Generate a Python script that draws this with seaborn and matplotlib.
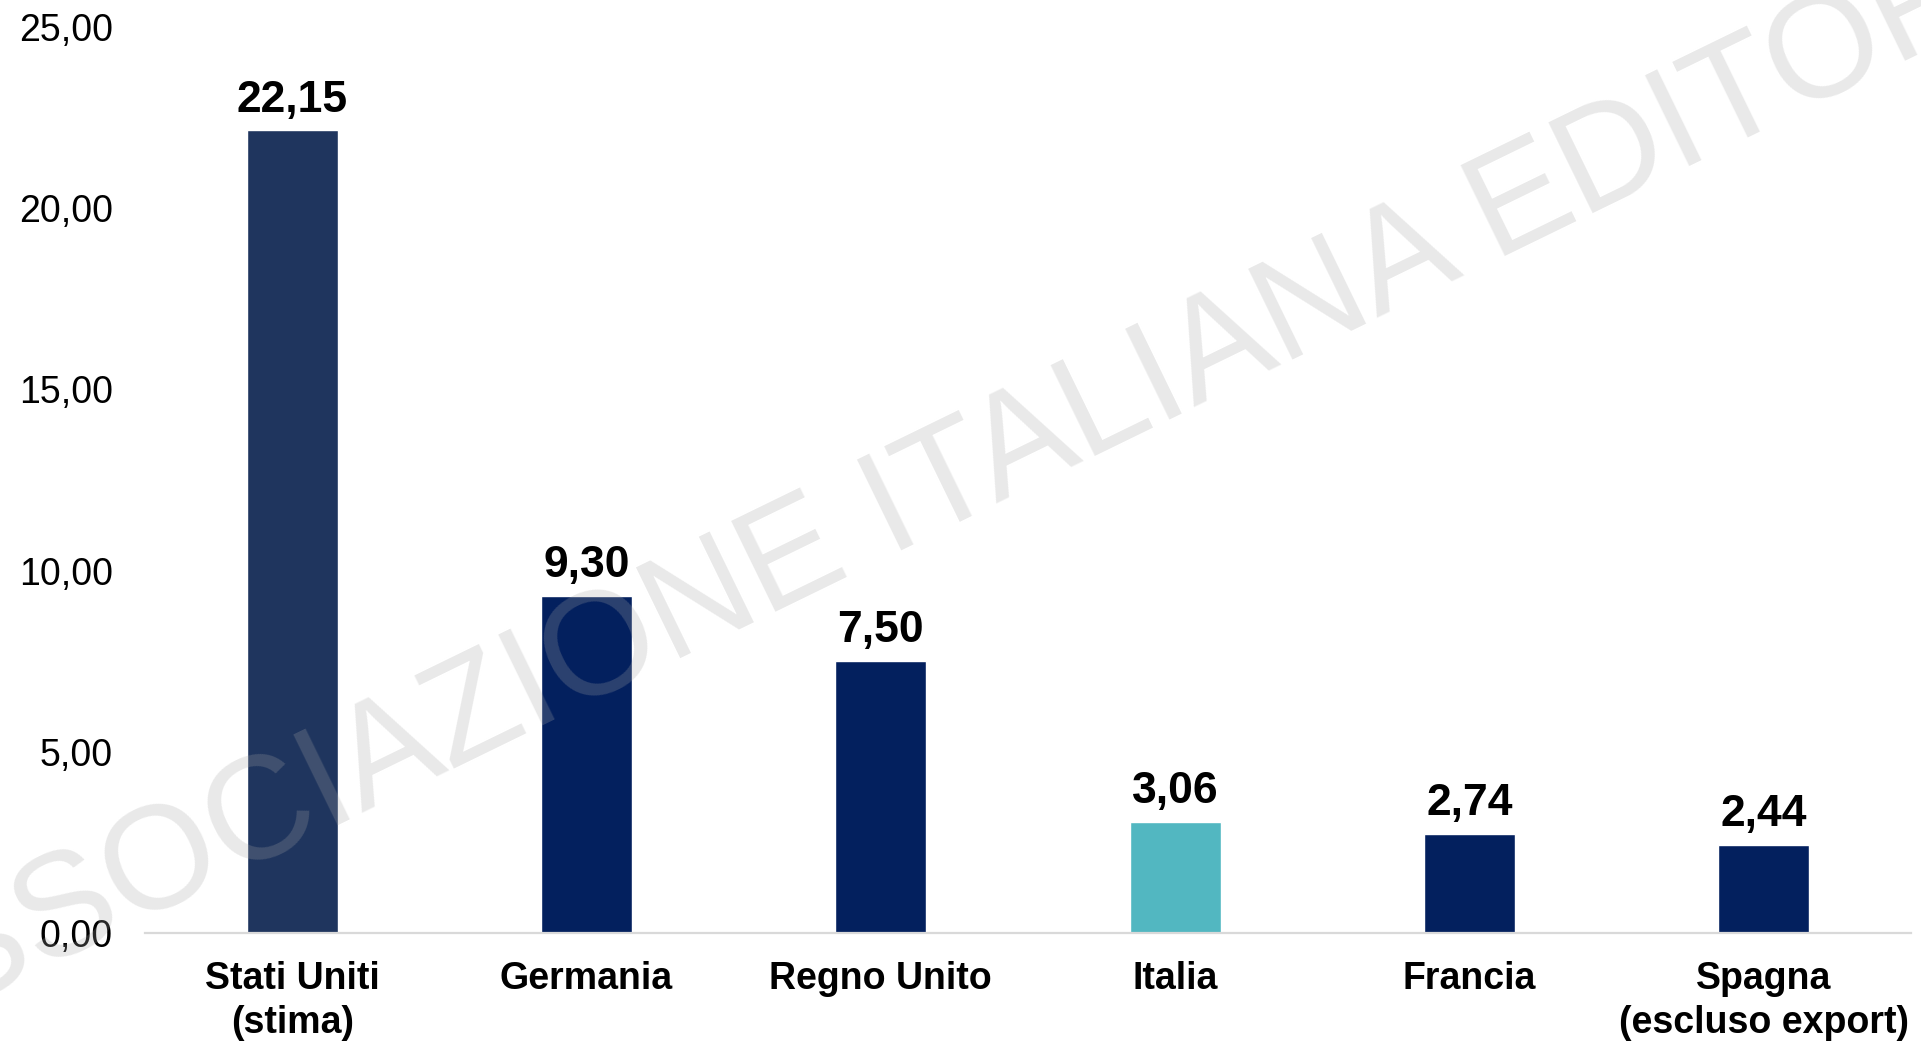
import seaborn as sns
import pandas as pd
import matplotlib.pyplot as plt
from matplotlib.ticker import FuncFormatter

# valori
paesi = ['Stati Uniti\n(stima)', 'Germania', 'Regno Unito', 'Italia', 'Francia', 'Spagna\n(escluso export)']
valori = [22.15, 9.30, 7.50, 3.06, 2.74, 2.44]
colori = ['#1F355E', '#03205E', '#03205E', '#52B7C1', '#03205E', '#03205E']
y_ticks = [0, 5, 10, 15, 20, 25]

df = pd.DataFrame({'paese': paesi, 'valore': valori})

sns.set_style('white')
plt.rcParams['font.family'] = ['Liberation Sans', 'DejaVu Sans']
plt.rcParams['text.color'] = 'black'
plt.rcParams['xtick.color'] = 'black'
plt.rcParams['ytick.color'] = 'black'

fig = plt.figure(figsize=(19.21, 10.45), dpi=100)
ax = fig.add_axes([0.0755, 0.1072, 0.9193, 0.867])

sns.barplot(data=df, x='paese', y='valore', hue='paese', palette=colori,
            legend=False, width=0.31, saturation=1, ax=ax)

virgola = lambda v: f'{v:.2f}'.replace('.', ',')
for cont in ax.containers:
    ax.bar_label(cont, labels=[virgola(b.get_height()) for b in cont],
                 padding=7, fontsize=32, fontweight='bold', color='black')

ax.set_ylim(0, 25)
ax.set_xlim(-0.5, 5.5)
ax.set_yticks(y_ticks)
ax.yaxis.set_major_formatter(FuncFormatter(lambda v, p: virgola(v)))
ax.tick_params(axis='y', length=0, pad=23, labelsize=27, labelcolor='black')
ax.tick_params(axis='x', length=0, pad=20, labelsize=27, labelcolor='black')
for lab in ax.get_xticklabels():
    lab.set_fontweight('bold')
    lab.set_linespacing(1.3)
ax.set_xlabel('')
ax.set_ylabel('')

for s in ['top', 'right', 'left']:
    ax.spines[s].set_visible(False)
ax.spines['bottom'].set_color('#D9D9D9')
ax.spines['bottom'].set_linewidth(1.6)

# filigrana
fig.text(0.492, 0.494, 'ASSOCIAZIONE ITALIANA EDITORI', fontsize=105.6,
         color='#A6A6A6', alpha=0.25, rotation=26, rotation_mode='anchor',
         ha='center', va='baseline', zorder=10)

fig.savefig('out.png', dpi=100)
